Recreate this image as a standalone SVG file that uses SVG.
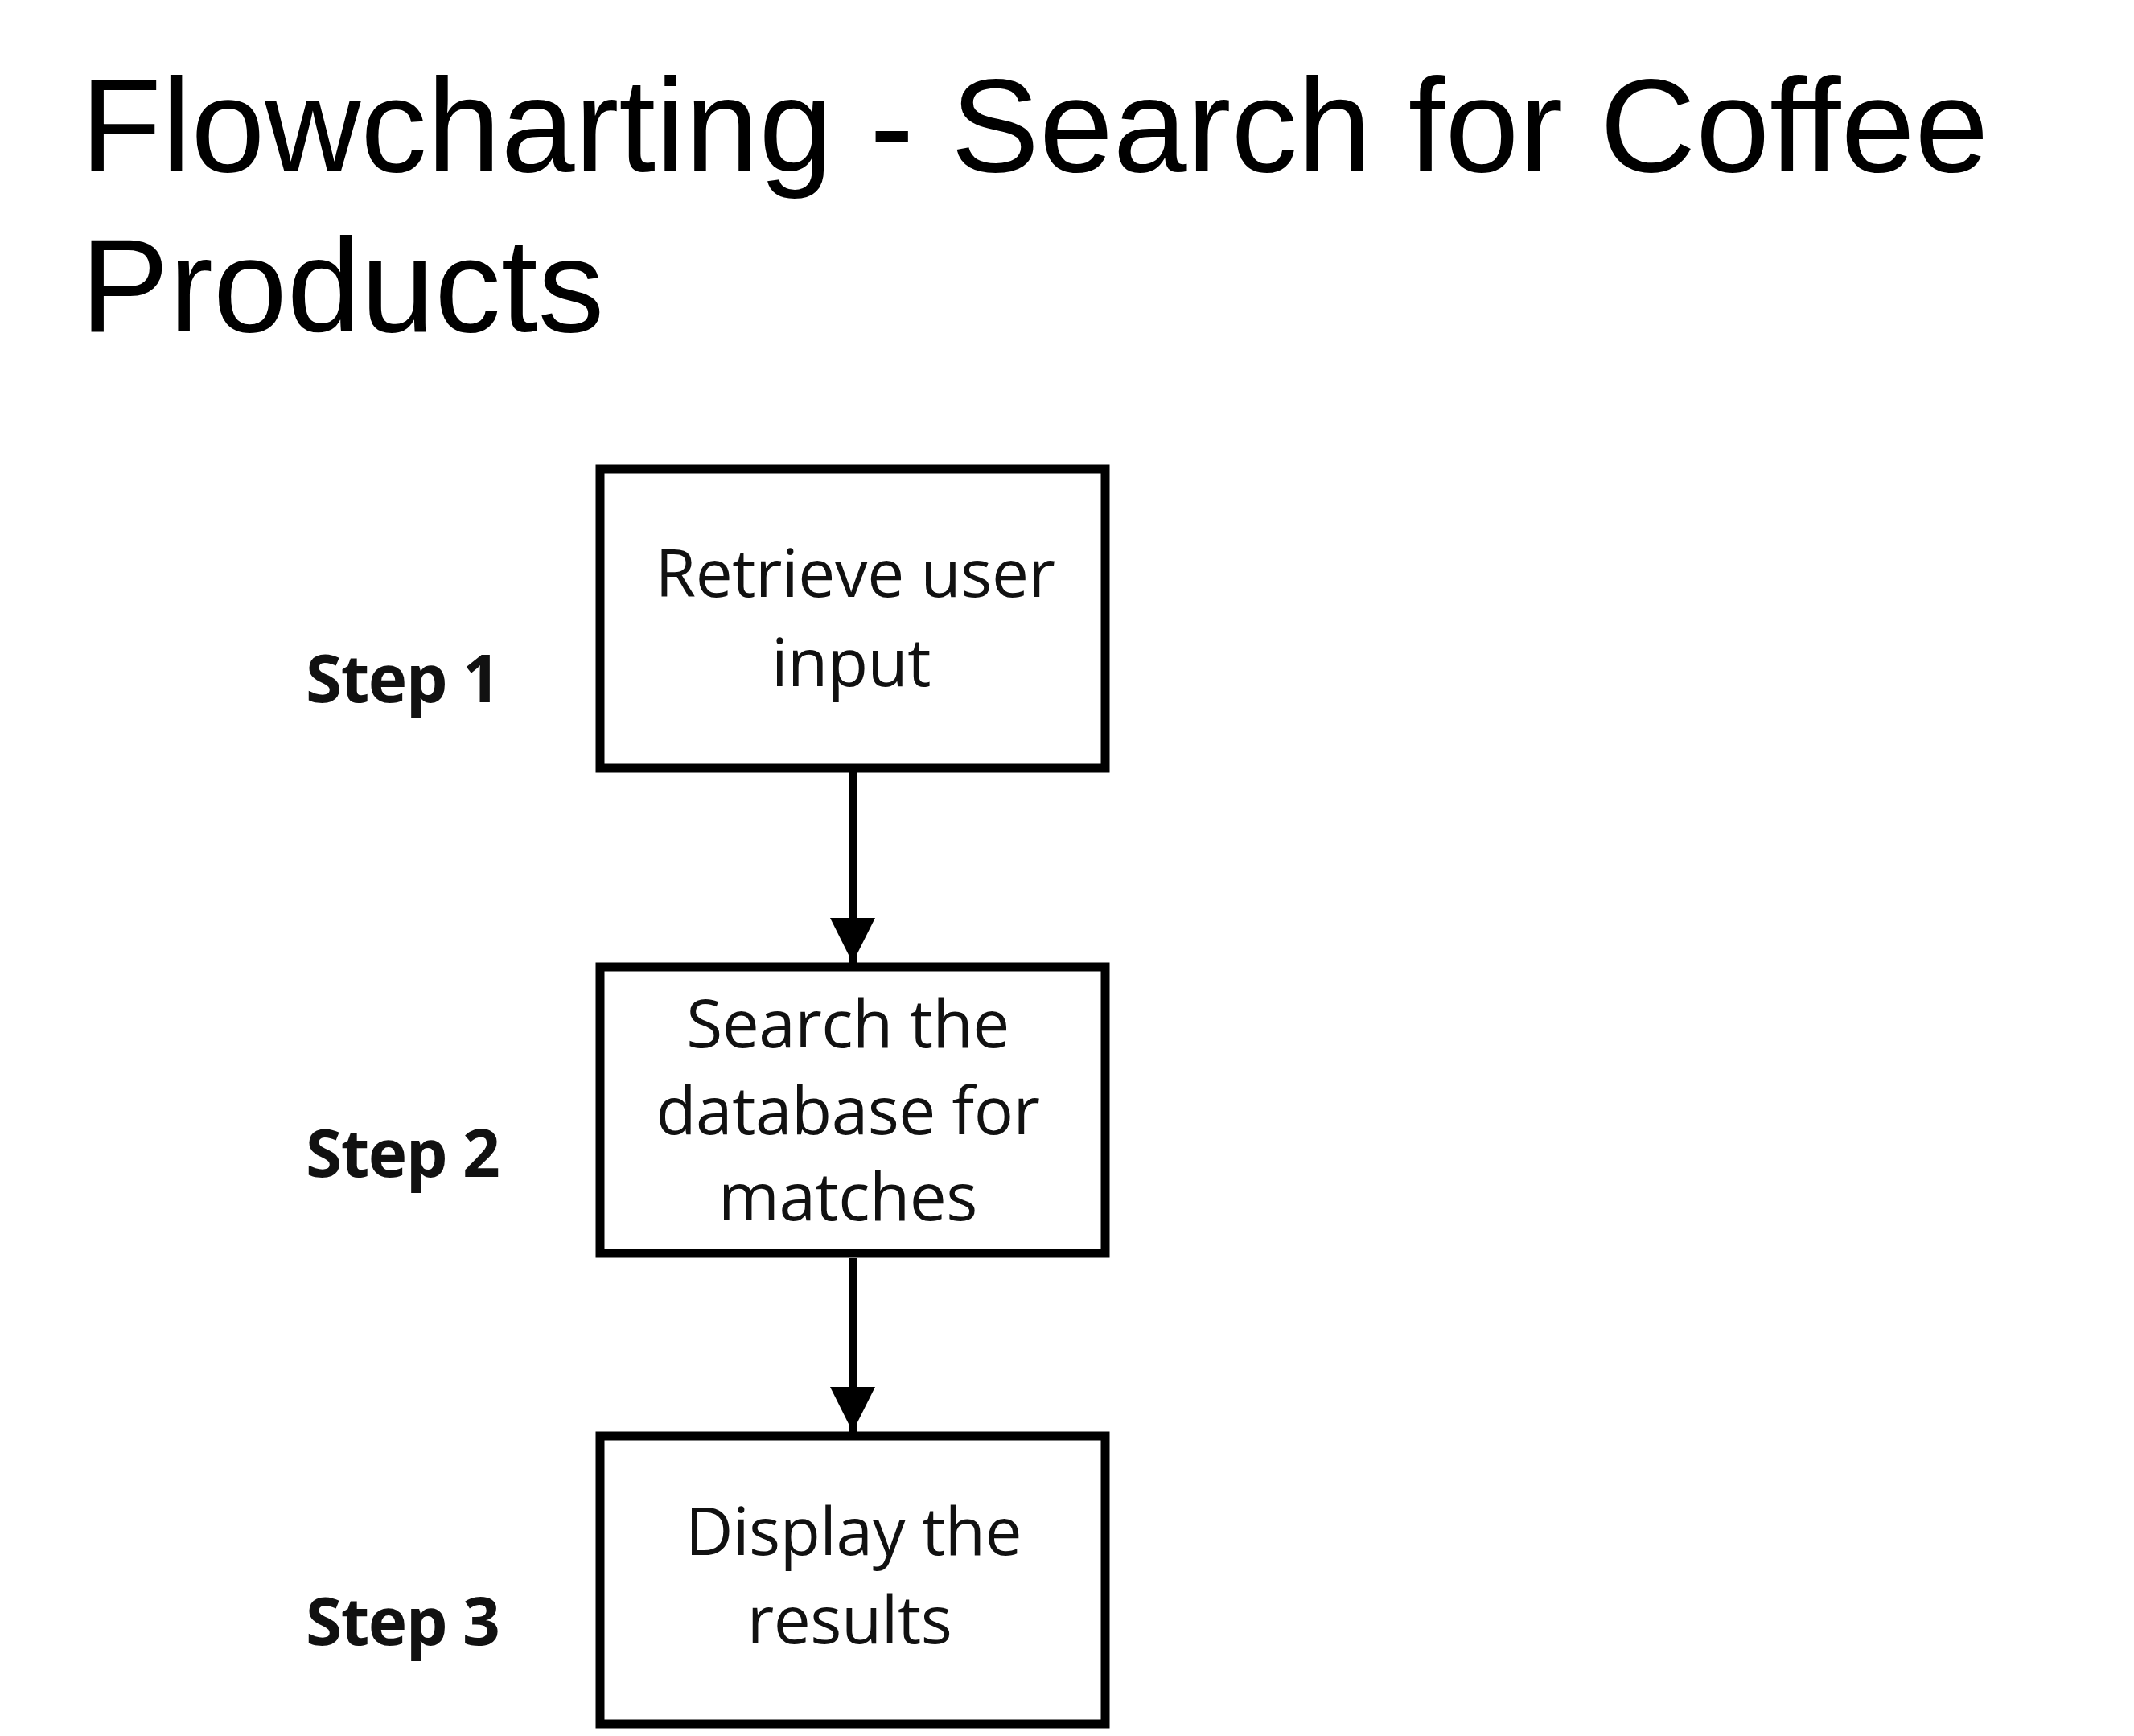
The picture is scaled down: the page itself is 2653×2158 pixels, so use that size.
<svg xmlns="http://www.w3.org/2000/svg" width="2653" height="2158" viewBox="0 0 2653 2158">
<style>
.title{font-family:"Liberation Sans",Arial,sans-serif;font-size:165px;fill:#000}
.box{fill:#fff;stroke:#000;stroke-width:11}
.btxt{font-family:"Open Sans","Noto Sans",sans-serif;font-size:82px;fill:#111;text-anchor:middle;letter-spacing:-0.5px}
.step{font-family:"Open Sans","Noto Sans",sans-serif;font-size:82px;font-weight:bold;fill:#111;letter-spacing:-1.5px}
.conn{stroke:#000;stroke-width:10;fill:none}
</style>
<defs>
<marker id="arrow" markerUnits="userSpaceOnUse" markerWidth="60" markerHeight="56" refX="60" refY="30" orient="auto" viewBox="0 0 60 60">
<path d="M0,0 L60,30 L0,60 Z" fill="#000"/>
</marker>
</defs>
<rect width="2653" height="2158" fill="#fff"/>
<g id="title">
<text class="title" x="100" y="213">Flowcharting - Search for Coffee</text>
<text class="title" x="100" y="412">Products</text>
</g>
<g id="connectors">
<line class="conn" x1="1060" y1="960" x2="1060" y2="1197" marker-end="url(#arrow)"/>
<line class="conn" x1="1060" y1="1564" x2="1060" y2="1780" marker-end="url(#arrow)"/>
</g>
<g id="step1">
<rect class="box" x="746" y="583" width="628" height="372"/>
<text class="btxt" x="1063" y="742">Retrieve user</text>
<text class="btxt" x="1058" y="853">input</text>
</g>
<g id="step2">
<rect class="box" x="746" y="1202" width="628" height="356"/>
<text class="btxt" x="1054" y="1302">Search the</text>
<text class="btxt" x="1054" y="1410">database for</text>
<text class="btxt" x="1054" y="1517">matches</text>
</g>
<g id="step3">
<rect class="box" x="746" y="1785" width="628" height="358"/>
<text class="btxt" x="1061" y="1933">Display the</text>
<text class="btxt" x="1056" y="2043">results</text>
</g>
<g id="label1"><text class="step" x="380" y="873">Step 1</text></g>
<g id="label2"><text class="step" x="380" y="1463">Step 2</text></g>
<g id="label3"><text class="step" x="380" y="2045">Step 3</text></g>
</svg>
